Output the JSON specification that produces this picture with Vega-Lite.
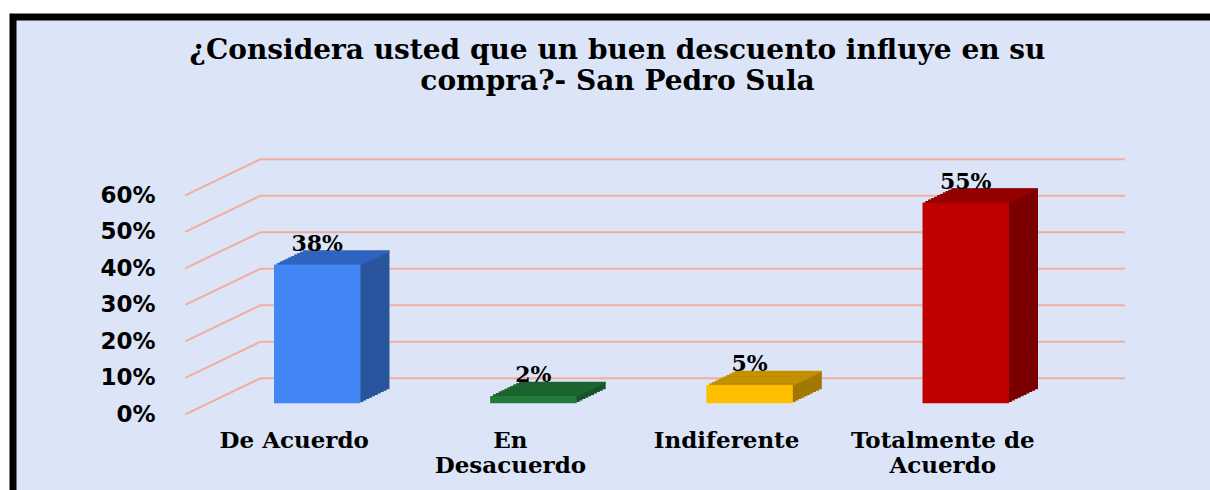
{
  "$schema": "https://vega.github.io/schema/vega-lite/v6.json",
  "autosize": "none",
  "width": 1197,
  "height": 473,
  "padding": {"left": 13, "top": 17, "right": 0, "bottom": 0},
  "background": "white",
  "title": {
    "text": ["¿Considera usted que un buen descuento influye en su", "compra?- San Pedro Sula"],
    "font": "DejaVu Serif", "fontSize": 28, "fontWeight": "bold", "color": "black",
    "anchor": "middle", "frame": "group", "offset": -79, "lineHeight": 31, "baseline": "top", "dx": 6
  },
  "config": {
    "view": {"fill": "#dce5f7", "stroke": "#000000", "strokeWidth": 7, "strokeDash": [1197, 1670, 473]},
    "axisX": {"domain": false, "ticks": false, "grid": false, "labelAngle": 0, "labelFont": "DejaVu Serif", "labelFontSize": 23, "labelFontWeight": "bold", "labelColor": "black", "labelPadding": 0, "labelOffset": -23, "labelLineHeight": 25, "labelLimit": 0, "labelOverlap": false, "labelFlush": false, "offset": -61, "title": null},
    "axisY": {"domain": false, "ticks": false, "grid": false, "labelFont": "DejaVu Sans", "labelFontSize": 23, "labelFontWeight": "bold", "labelColor": "black", "labelPadding": 0, "labelOffset": 11, "offset": -142, "title": null}
  },
  "datasets": {
    "bars": [
      {"cat": "De Acuerdo", "value": 0.38},
      {"cat": "En Desacuerdo", "value": 0.02},
      {"cat": "Indiferente", "value": 0.05},
      {"cat": "Totalmente de Acuerdo", "value": 0.55}
    ],
    "grid": [{"v": 0}, {"v": 0.1}, {"v": 0.2}, {"v": 0.3}, {"v": 0.4}, {"v": 0.5}, {"v": 0.6}]
  },
  "data": {"name": "bars"},
  "encoding": {
    "x": {"field": "cat", "type": "nominal", "sort": null, "title": null,
      "scale": {"type": "band", "domain": ["De Acuerdo", "En Desacuerdo", "Indiferente", "Totalmente de Acuerdo"], "range": [261, 996], "paddingInner": 0.6, "paddingOuter": 0},
      "axis": {"labelExpr": "datum.label == 'En Desacuerdo' ? ['En', 'Desacuerdo'] : datum.label == 'Totalmente de Acuerdo' ? ['Totalmente de', 'Acuerdo'] : datum.label"}},
    "y": {"field": "value", "type": "quantitative", "title": null,
      "scale": {"domain": [0, 0.6], "range": [386.3, 167.3], "nice": false, "zero": true},
      "axis": {"values": [0, 0.1, 0.2, 0.3, 0.4, 0.5, 0.6], "format": ".0%"}}
  },
  "layer": [
    {"data": {"name": "grid"}, "mark": {"type": "rule", "color": "#f3aca0", "strokeWidth": 2, "xOffset": -57, "x2Offset": 159, "yOffset": -25},
     "encoding": {"x": {"datum": "De Acuerdo"}, "x2": {"datum": "Totalmente de Acuerdo"}, "y": {"field": "v", "type": "quantitative", "title": null}}},
    {"data": {"name": "grid"}, "mark": {"type": "rule", "color": "#f3aca0", "strokeWidth": 2, "xOffset": -132, "x2Offset": -57, "yOffset": 11, "y2Offset": -25},
     "encoding": {"x": {"datum": "De Acuerdo"}, "x2": {"datum": "De Acuerdo"}, "y": {"field": "v", "type": "quantitative", "title": null}, "y2": {"field": "v"}}},

    {"mark": {"type": "bar", "xOffset": 2.9, "yOffset": -1.4, "y2Offset": -1.4}, "encoding": {"color": {"field": "cat", "type": "nominal", "legend": null, "scale": {"domain": ["De Acuerdo", "En Desacuerdo", "Indiferente", "Totalmente de Acuerdo"], "range": ["#2a559e", "#17522a", "#a37800", "#7a0000"]}}}},
    {"mark": {"type": "bar", "xOffset": 5.8, "yOffset": -2.8, "y2Offset": -2.8}, "encoding": {"color": {"field": "cat", "type": "nominal", "legend": null, "scale": {"domain": ["De Acuerdo", "En Desacuerdo", "Indiferente", "Totalmente de Acuerdo"], "range": ["#2a559e", "#17522a", "#a37800", "#7a0000"]}}}},
    {"mark": {"type": "bar", "xOffset": 8.7, "yOffset": -4.2, "y2Offset": -4.2}, "encoding": {"color": {"field": "cat", "type": "nominal", "legend": null, "scale": {"domain": ["De Acuerdo", "En Desacuerdo", "Indiferente", "Totalmente de Acuerdo"], "range": ["#2a559e", "#17522a", "#a37800", "#7a0000"]}}}},
    {"mark": {"type": "bar", "xOffset": 11.6, "yOffset": -5.6, "y2Offset": -5.6}, "encoding": {"color": {"field": "cat", "type": "nominal", "legend": null, "scale": {"domain": ["De Acuerdo", "En Desacuerdo", "Indiferente", "Totalmente de Acuerdo"], "range": ["#2a559e", "#17522a", "#a37800", "#7a0000"]}}}},
    {"mark": {"type": "bar", "xOffset": 14.5, "yOffset": -7.0, "y2Offset": -7.0}, "encoding": {"color": {"field": "cat", "type": "nominal", "legend": null, "scale": {"domain": ["De Acuerdo", "En Desacuerdo", "Indiferente", "Totalmente de Acuerdo"], "range": ["#2a559e", "#17522a", "#a37800", "#7a0000"]}}}},
    {"mark": {"type": "bar", "xOffset": 17.4, "yOffset": -8.4, "y2Offset": -8.4}, "encoding": {"color": {"field": "cat", "type": "nominal", "legend": null, "scale": {"domain": ["De Acuerdo", "En Desacuerdo", "Indiferente", "Totalmente de Acuerdo"], "range": ["#2a559e", "#17522a", "#a37800", "#7a0000"]}}}},
    {"mark": {"type": "bar", "xOffset": 20.3, "yOffset": -9.8, "y2Offset": -9.8}, "encoding": {"color": {"field": "cat", "type": "nominal", "legend": null, "scale": {"domain": ["De Acuerdo", "En Desacuerdo", "Indiferente", "Totalmente de Acuerdo"], "range": ["#2a559e", "#17522a", "#a37800", "#7a0000"]}}}},
    {"mark": {"type": "bar", "xOffset": 23.2, "yOffset": -11.2, "y2Offset": -11.2}, "encoding": {"color": {"field": "cat", "type": "nominal", "legend": null, "scale": {"domain": ["De Acuerdo", "En Desacuerdo", "Indiferente", "Totalmente de Acuerdo"], "range": ["#2a559e", "#17522a", "#a37800", "#7a0000"]}}}},
    {"mark": {"type": "bar", "xOffset": 26.1, "yOffset": -12.6, "y2Offset": -12.6}, "encoding": {"color": {"field": "cat", "type": "nominal", "legend": null, "scale": {"domain": ["De Acuerdo", "En Desacuerdo", "Indiferente", "Totalmente de Acuerdo"], "range": ["#2a559e", "#17522a", "#a37800", "#7a0000"]}}}},
    {"mark": {"type": "bar", "xOffset": 29.0, "yOffset": -14.0, "y2Offset": -14.0}, "encoding": {"color": {"field": "cat", "type": "nominal", "legend": null, "scale": {"domain": ["De Acuerdo", "En Desacuerdo", "Indiferente", "Totalmente de Acuerdo"], "range": ["#2a559e", "#17522a", "#a37800", "#7a0000"]}}}},

    {"mark": {"type": "bar", "xOffset": 2.9, "yOffset": -1.6, "y2Offset": 0.2}, "encoding": {"y2": {"field": "value"}, "color": {"field": "cat", "type": "nominal", "legend": null, "scale": {"domain": ["De Acuerdo", "En Desacuerdo", "Indiferente", "Totalmente de Acuerdo"], "range": ["#2f64c0", "#1c6430", "#c49100", "#950000"]}}}},
    {"mark": {"type": "bar", "xOffset": 5.8, "yOffset": -3.0, "y2Offset": -1.2}, "encoding": {"y2": {"field": "value"}, "color": {"field": "cat", "type": "nominal", "legend": null, "scale": {"domain": ["De Acuerdo", "En Desacuerdo", "Indiferente", "Totalmente de Acuerdo"], "range": ["#2f64c0", "#1c6430", "#c49100", "#950000"]}}}},
    {"mark": {"type": "bar", "xOffset": 8.7, "yOffset": -4.4, "y2Offset": -2.6}, "encoding": {"y2": {"field": "value"}, "color": {"field": "cat", "type": "nominal", "legend": null, "scale": {"domain": ["De Acuerdo", "En Desacuerdo", "Indiferente", "Totalmente de Acuerdo"], "range": ["#2f64c0", "#1c6430", "#c49100", "#950000"]}}}},
    {"mark": {"type": "bar", "xOffset": 11.6, "yOffset": -5.8, "y2Offset": -4.0}, "encoding": {"y2": {"field": "value"}, "color": {"field": "cat", "type": "nominal", "legend": null, "scale": {"domain": ["De Acuerdo", "En Desacuerdo", "Indiferente", "Totalmente de Acuerdo"], "range": ["#2f64c0", "#1c6430", "#c49100", "#950000"]}}}},
    {"mark": {"type": "bar", "xOffset": 14.5, "yOffset": -7.2, "y2Offset": -5.4}, "encoding": {"y2": {"field": "value"}, "color": {"field": "cat", "type": "nominal", "legend": null, "scale": {"domain": ["De Acuerdo", "En Desacuerdo", "Indiferente", "Totalmente de Acuerdo"], "range": ["#2f64c0", "#1c6430", "#c49100", "#950000"]}}}},
    {"mark": {"type": "bar", "xOffset": 17.4, "yOffset": -8.6, "y2Offset": -6.8}, "encoding": {"y2": {"field": "value"}, "color": {"field": "cat", "type": "nominal", "legend": null, "scale": {"domain": ["De Acuerdo", "En Desacuerdo", "Indiferente", "Totalmente de Acuerdo"], "range": ["#2f64c0", "#1c6430", "#c49100", "#950000"]}}}},
    {"mark": {"type": "bar", "xOffset": 20.3, "yOffset": -10.0, "y2Offset": -8.2}, "encoding": {"y2": {"field": "value"}, "color": {"field": "cat", "type": "nominal", "legend": null, "scale": {"domain": ["De Acuerdo", "En Desacuerdo", "Indiferente", "Totalmente de Acuerdo"], "range": ["#2f64c0", "#1c6430", "#c49100", "#950000"]}}}},
    {"mark": {"type": "bar", "xOffset": 23.2, "yOffset": -11.4, "y2Offset": -9.6}, "encoding": {"y2": {"field": "value"}, "color": {"field": "cat", "type": "nominal", "legend": null, "scale": {"domain": ["De Acuerdo", "En Desacuerdo", "Indiferente", "Totalmente de Acuerdo"], "range": ["#2f64c0", "#1c6430", "#c49100", "#950000"]}}}},
    {"mark": {"type": "bar", "xOffset": 26.1, "yOffset": -12.8, "y2Offset": -11.0}, "encoding": {"y2": {"field": "value"}, "color": {"field": "cat", "type": "nominal", "legend": null, "scale": {"domain": ["De Acuerdo", "En Desacuerdo", "Indiferente", "Totalmente de Acuerdo"], "range": ["#2f64c0", "#1c6430", "#c49100", "#950000"]}}}},
    {"mark": {"type": "bar", "xOffset": 29.0, "yOffset": -14.2, "y2Offset": -12.4}, "encoding": {"y2": {"field": "value"}, "color": {"field": "cat", "type": "nominal", "legend": null, "scale": {"domain": ["De Acuerdo", "En Desacuerdo", "Indiferente", "Totalmente de Acuerdo"], "range": ["#2f64c0", "#1c6430", "#c49100", "#950000"]}}}},

    {"mark": {"type": "bar"}, "encoding": {"color": {"field": "cat", "type": "nominal", "legend": null, "scale": {"domain": ["De Acuerdo", "En Desacuerdo", "Indiferente", "Totalmente de Acuerdo"], "range": ["#4285f4", "#23793a", "#ffbf00", "#c00000"]}}}},
    {"mark": {"type": "text", "dy": -21, "font": "DejaVu Serif", "fontSize": 22, "fontWeight": "bold", "color": "black", "baseline": "middle"},
     "encoding": {"text": {"field": "value", "type": "quantitative", "format": ".0%"}}}
  ],
  "resolve": {"scale": {"color": "independent"}}
}
